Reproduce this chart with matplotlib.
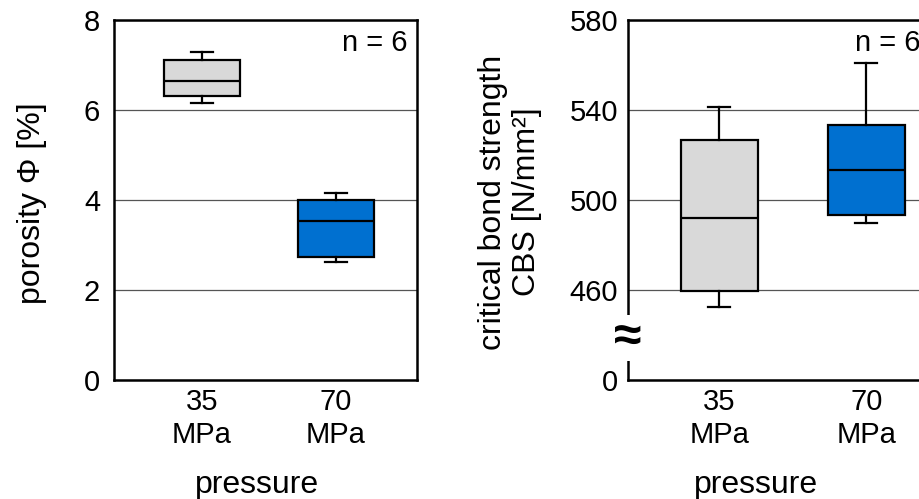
import matplotlib
matplotlib.use("Agg")
import matplotlib.pyplot as plt

plt.rcParams['font.family'] = ['Liberation Sans', 'DejaVu Sans']

# categories and box statistics
categories = ['35\nMPa', '70\nMPa']
box_colors = ['#d9d9d9', '#0070d0']

# porosity [%]: whislo, q1, med, q3, whishi
por_whislo = [6.15, 2.62]
por_q1 = [6.31, 2.73]
por_med = [6.64, 3.53]
por_q3 = [7.12, 3.99]
por_whishi = [7.28, 4.16]

# CBS [N/mm²]
cbs_whislo = [452.6, 489.6]
cbs_q1 = [459.7, 493.2]
cbs_med = [492.1, 513.3]
cbs_q3 = [526.8, 533.2]
cbs_whishi = [541.2, 560.9]

por_ticks = [0, 2, 4, 6, 8]
cbs_ticks = [420, 460, 500, 540, 580]
cbs_ticklabels = ['0', '460', '500', '540', '580']

TICK_FS = 21
LABEL_FS = 23


def make_stats(lo, q1, med, q3, hi):
    return [dict(whislo=a, q1=b, med=c, q3=d, whishi=e, fliers=[])
            for a, b, c, d, e in zip(lo, q1, med, q3, hi)]


def draw_boxes(ax, stats, width, capw):
    lw = 1.6
    art = ax.bxp(stats, positions=[1, 2], widths=width, capwidths=capw,
                 patch_artist=True, showfliers=False,
                 boxprops=dict(linewidth=lw, edgecolor='black'),
                 medianprops=dict(color='black', linewidth=lw),
                 whiskerprops=dict(color='black', linewidth=lw),
                 capprops=dict(color='black', linewidth=lw))
    for patch, c in zip(art['boxes'], box_colors):
        patch.set_facecolor(c)
        patch.set_zorder(3)
    for key in ['medians', 'whiskers', 'caps']:
        for ln in art[key]:
            ln.set_zorder(4)


def style_axes(ax):
    ax.set_axisbelow(True)
    ax.yaxis.grid(True, color='#555555', linewidth=0.9)
    for s in ax.spines.values():
        s.set_linewidth(1.8)
    ax.set_xticks([1, 2])
    ax.set_xticklabels(categories, linespacing=1.2)
    ax.tick_params(axis='both', length=0, labelsize=TICK_FS)
    ax.tick_params(axis='x', pad=6)


W, H = 920, 499
fig = plt.figure(figsize=(W / 100, H / 100), dpi=100)

# left panel: porosity
ax1 = fig.add_axes([114 / W, (H - 380) / H, 303 / W, 360 / H])
draw_boxes(ax1, make_stats(por_whislo, por_q1, por_med, por_q3, por_whishi), 0.567, 0.16)
style_axes(ax1)
ax1.set_xlim(0.343, 2.604)
ax1.set_ylim(0, 8)
ax1.set_yticks(por_ticks)
ax1.tick_params(axis='y', pad=10)
ax1.text(0.97, 0.935, 'n = 6', transform=ax1.transAxes, ha='right', va='center', fontsize=TICK_FS)
ax1.text(0.472, -0.3125, 'pressure', transform=ax1.transAxes, ha='center', va='baseline', fontsize=LABEL_FS)
fig.text(32 / W, 1 - 203 / H, 'porosity Φ [%]', rotation=90, ha='center', va='center', fontsize=LABEL_FS)

# right panel: critical bond strength (broken axis)
ax2 = fig.add_axes([628 / W, (H - 380) / H, 306 / W, 360 / H])
draw_boxes(ax2, make_stats(cbs_whislo, cbs_q1, cbs_med, cbs_q3, cbs_whishi), 0.524, 0.15)
style_axes(ax2)
ax2.set_xlim(0.38, 2.46)
ax2.set_ylim(420, 580)
ax2.set_yticks(cbs_ticks)
ax2.set_yticklabels(cbs_ticklabels)
ax2.tick_params(axis='y', pad=7)
ax2.text(0.742, 0.935, 'n = 6', transform=ax2.transAxes, ha='left', va='center', fontsize=TICK_FS)
ax2.text(0.42, -0.3125, 'pressure', transform=ax2.transAxes, ha='center', va='baseline', fontsize=LABEL_FS)
ax2.text(0.0, 438.5, '≈', transform=ax2.get_yaxis_transform(), ha='center', va='center',
         fontsize=36, fontweight='bold', zorder=10, clip_on=False,
         bbox=dict(facecolor='white', edgecolor='none', pad=0.0))
fig.text(510 / W, 1 - 202 / H, 'critical bond strength\nCBS [N/mm²]', rotation=90,
         ha='center', va='center', fontsize=LABEL_FS, linespacing=1.2, multialignment='center')

fig.savefig('out.png', dpi=100)
